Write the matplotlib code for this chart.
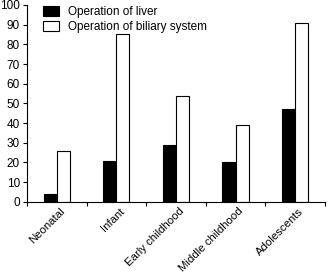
import numpy as np
import matplotlib
matplotlib.use("Agg")
import matplotlib.pyplot as plt
import matplotlib.transforms as mtransforms

categories = ["Neonatal", "Infant", "Early childhood", "Middle childhood", "Adolescents"]
liver = [4, 21, 29, 20, 47]
biliary = [26, 85, 54, 39, 91]

plt.rcParams['font.family'] = ['Liberation Sans', 'DejaVu Sans']
FS = 8.5

fig = plt.figure(figsize=(3.28, 2.75), dpi=100)
ax = fig.add_axes([0.082, 0.266, 0.909, 0.716])

x = np.arange(len(categories))
w = 0.22
ax.bar(x - w / 2, liver, w, color='black', edgecolor='black', linewidth=0.8,
       label='Operation of liver')
ax.bar(x + w / 2, biliary, w, color='white', edgecolor='black', linewidth=0.8,
       label='Operation of biliary system')

ax.set_xlim(-0.5, len(categories) - 0.5)
ax.set_ylim(0, 100)
ax.set_yticks(range(0, 101, 10))
ax.tick_params(axis='y', labelsize=FS, length=3, width=0.8, pad=2)

# ticks between the groups, labels at the group centres
ax.set_xticks(np.arange(len(categories) + 1) - 0.5)
ax.set_xticklabels([])
ax.set_xticks(x, minor=True)
ax.set_xticklabels(categories, minor=True, rotation=45, ha='right',
                   rotation_mode='anchor', fontsize=8.2)
ax.tick_params(axis='x', which='major', length=3, width=0.8)
ax.tick_params(axis='x', which='minor', length=0, pad=3)
shift = mtransforms.ScaledTranslation(2 / 72, 0, fig.dpi_scale_trans)
for lbl in ax.get_xticklabels(minor=True):
    lbl.set_transform(lbl.get_transform() + shift)

ax.spines['top'].set_visible(False)
ax.spines['right'].set_visible(False)
ax.spines['left'].set_linewidth(0.8)
ax.spines['bottom'].set_linewidth(0.8)

ax.legend(loc='upper left', bbox_to_anchor=(0.05, 1.0), frameon=False,
          fontsize=FS, handlelength=1.35, handleheight=0.85,
          handletextpad=0.75, labelspacing=0.25, borderaxespad=0,
          borderpad=0.1)

fig.savefig("out.png", dpi=100)
